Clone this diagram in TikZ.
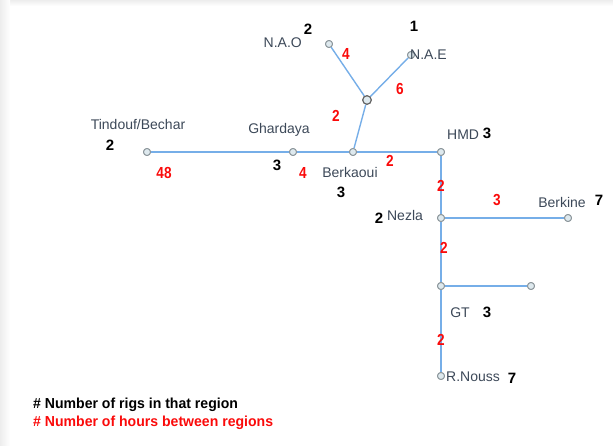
\documentclass[tikz,border=0pt]{standalone}
\usepackage{fontspec}
\setmainfont{Liberation Sans}
\newfontfamily\narrowfont[FakeStretch=0.85]{Liberation Sans}
\newfontfamily\legendfont[FakeStretch=0.97]{Liberation Sans}
\definecolor{linkblue}{RGB}{118,174,232}
\definecolor{sitefill}{RGB}{222,233,238}
\definecolor{sitedraw}{RGB}{140,150,155}
\definecolor{labelgray}{RGB}{60,72,88}
\definecolor{hourred}{RGB}{250,10,10}

\begin{document}
\begin{tikzpicture}[
  x=1pt, y=-1pt,
  font=\fontsize{14}{16}\selectfont,
  site/.style={circle,draw=sitedraw,fill=sitefill,line width=.9pt,inner sep=0pt,minimum size=7pt},
  hub/.style={site,draw=gray!80!black,minimum size=8.5pt,line width=1.1pt},
  link/.style={linkblue,line width=1.4pt},
  place/.style={text=labelgray,inner sep=0pt},
  rigs/.style={font=\fontsize{15}{17}\selectfont\bfseries,inner sep=0pt},
  hours/.style={text=hourred,font=\narrowfont\fontsize{16}{18}\selectfont\bfseries,inner sep=0pt},
  legend/.style={anchor=west,inner sep=0pt,font=\legendfont\fontsize{14.5}{16}\selectfont\bfseries}
]
  % page and its faint shadow
  \useasboundingbox (0,0) rectangle (613,446);
  \shade[top color=gray!14,bottom color=white] (0,0) rectangle (613,6);
  \shade[left color=gray!14,right color=white] (0,0) rectangle (10,446);

  % Sites.
  \node[site] (nao) at (329,44) {};
  \node[site] (nae) at (411,55) {};
  \node[hub] (fork) at (367,100) {};
  \node[site] (tindouf) at (147,152) {};
  \node[site] (ghardaya) at (293,152) {};
  \node[site] (berkaoui) at (353,152) {};
  \node[site] (hmd) at (441,152) {};
  \node[site] (nezla) at (441,218) {};
  \node[site] (berkine) at (568,218) {};
  \node[site] (gt) at (441,286) {};
  \node[site] (gtend) at (531,286) {};
  \node[site] (rnouss) at (441,376) {};

  % Links.
  \draw[link] (nao) -- (fork);
  \draw[link] (nae) -- (fork);
  \draw[link] (fork) -- (berkaoui);
  \draw[link] (tindouf) -- (ghardaya);
  \draw[link] (ghardaya) -- (berkaoui);
  \draw[link] (berkaoui) -- (hmd);
  \draw[link] (hmd) -- (nezla);
  \draw[link] (nezla) -- (berkine);
  \draw[link] (nezla) -- (gt);
  \draw[link] (gt) -- (gtend);
  \draw[link] (gt) -- (rnouss);
  \foreach \s in {nao,nae,tindouf,ghardaya,berkaoui,hmd,nezla,berkine,gt,gtend,rnouss}
    \node[site] at (\s) {};
  \node[hub] at (fork) {};

  % Names and rigs.
  \node[place,anchor=east] (naoname) at (302,43) {N.A.O};
  \node[rigs] (naorigs) at (308,29) {2};
  \node[place,anchor=west] (naename) at (410,55) {N.A.E};
  \node[rigs] (naerigs) at (414,26) {1};
  \node[place] (tindoufname) at (138,124) {Tindouf/Bechar};
  \node[rigs] (tindoufrigs) at (110,145) {2};
  \node[place] (ghardayaname) at (279,130) {Ghardaya};
  \node[rigs] (ghardayarigs) at (277,165) {3};
  \node[place] (berkaouiname) at (350,172) {Berkaoui};
  \node[rigs] (berkaouirigs) at (341,192) {3};
  \node[place,anchor=west] (hmdname) at (447,135) {HMD};
  \node[rigs] (hmdrigs) at (487,133) {3};
  \node[place] (nezlaname) at (405,215) {Nezla};
  \node[rigs] (nezlarigs) at (379,218) {2};
  \node[place] (berkinename) at (562,202) {Berkine};
  \node[rigs] (berkinerigs) at (599,200) {7};
  \node[place] (gtname) at (460,313) {GT};
  \node[rigs] (gtrigs) at (487,312) {3};
  \node[place,anchor=west] (rnoussname) at (446,377) {R.Nouss};
  \node[rigs] (rnoussrigs) at (512,378) {7};

  % Hours.
  \node[hours] at (346,54) {4};
  \node[hours] at (400,89) {6};
  \node[hours] at (336,116) {2};
  \node[hours] at (164,173) {48};
  \node[hours] at (303,173) {4};
  \node[hours] at (390,161) {2};
  \node[hours] at (441,186) {2};
  \node[hours] at (497,200) {3};
  \node[hours] at (444,248) {2};
  \node[hours] at (441,340) {2};

  % Legend.
  \node[legend] (legrigs) at (33,405) {\# Number of rigs in that region};
  \node[legend,text=hourred] (leghours) at (33,423) {\# Number of hours between regions};
\end{tikzpicture}
\end{document}
